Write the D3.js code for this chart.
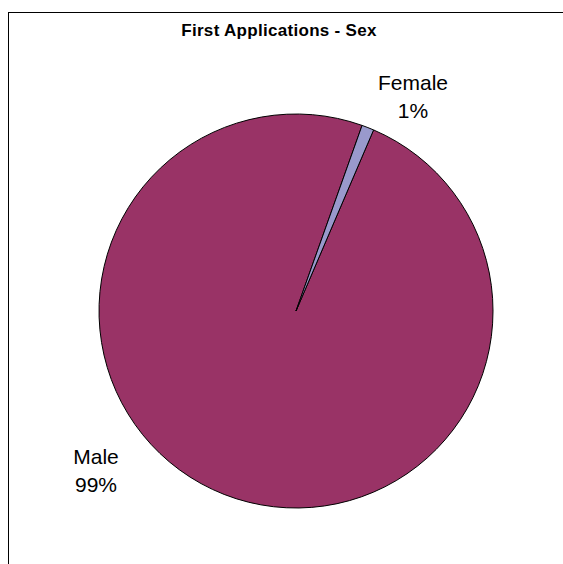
<!DOCTYPE html>
<html><head><meta charset="utf-8">
<script src="https://cdn.jsdelivr.net/npm/d3@7"></script>
<style>body{margin:0;background:#fff}svg{display:block}</style>
</head><body>
<svg id="c" width="563" height="564"></svg>
<script>
const categories = ["Male", "Female"];
const values = [99, 1];
const percentLabels = ["99%", "1%"];
const colors = ["#993366", "#9999CC"];
const title = "First Applications - Sex";

const svg = d3.select("#c");
svg.append("rect").attr("x", 8.5).attr("y", 12.5).attr("width", 600).attr("height", 600)
  .attr("fill", "#fff").attr("stroke", "#000").attr("stroke-width", 1);
svg.append("text").attr("x", 279).attr("y", 36).attr("text-anchor", "middle")
  .attr("font-family", "Liberation Sans, Arial, sans-serif").attr("font-weight", "bold")
  .attr("font-size", 17).attr("letter-spacing", 0.3).text(title);

const cx = 296, cy = 311, r = 197;
const start = 23.2 * Math.PI / 180;
const pie = d3.pie().sort(null).value(d => d).startAngle(start).endAngle(start + 2 * Math.PI);
const arcs = pie(values);
const arc = d3.arc().innerRadius(0).outerRadius(r);
const g = svg.append("g").attr("transform", `translate(${cx},${cy})`);
g.selectAll("path").data(arcs).join("path")
  .attr("d", arc).attr("fill", (d, i) => colors[i]).attr("stroke", "#000").attr("stroke-width", 1);

const labelPos = [[96, 464], [413, 90]];
categories.forEach((c, i) => {
  const t = svg.append("text").attr("text-anchor", "middle")
    .attr("font-family", "Liberation Sans, Arial, sans-serif").attr("font-size", 21);
  t.append("tspan").attr("x", labelPos[i][0]).attr("y", labelPos[i][1]).text(c);
  t.append("tspan").attr("x", labelPos[i][0]).attr("y", labelPos[i][1] + 27.5).text(percentLabels[i]);
});
</script>
</body></html>
